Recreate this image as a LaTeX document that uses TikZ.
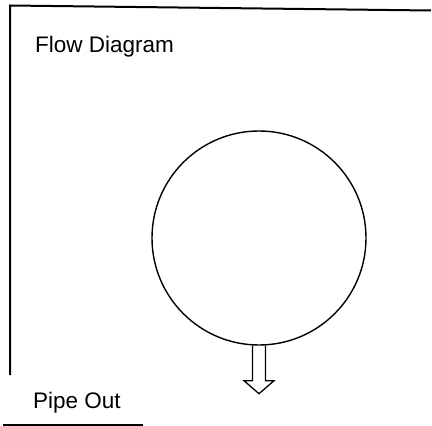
\documentclass[tikz,border=0pt]{standalone}
\usepackage{fontspec}
\setmainfont{Liberation Sans}
\usepackage{tikz}
\usetikzlibrary{calc}

\begin{document}
\begin{tikzpicture}[x=1pt, y=-1pt,
        label text/.style={anchor=base west, inner sep=0pt, font=\fontsize{22.5}{26}\selectfont},
        frame line/.style={line width=2pt},
        tank/.style={circle, draw, line width=1.4pt, minimum size=214pt, inner sep=0pt}]
        \useasboundingbox (0, 0) rectangle (432, 426);
        % frame of the sheet
        \draw[frame line] (10, 375) -- (10, 5.5) -- (431, 10.5);
        \draw[line width=1.2pt] (3, 425) -- (143, 425);
        \node[label text] (title) at (35, 52) {Flow Diagram};
        \node[tank] (vessel) at (259, 238) {};
        % outlet arrow below the vessel
        \draw[line width=1.3pt, line join=miter]
            ($(vessel.south) + (-6.5, 0)$) -- ++(0, 35) -- ++(-8.5, 0)
            -- ($(vessel.south) + (0, 48)$) -- ($(vessel.south) + (15, 35)$)
            -- ++(-8.5, 0) -- ++(0, -35);
        \node[label text] (outlet) at (33, 408) {Pipe Out};
    \end{tikzpicture}
\end{document}
